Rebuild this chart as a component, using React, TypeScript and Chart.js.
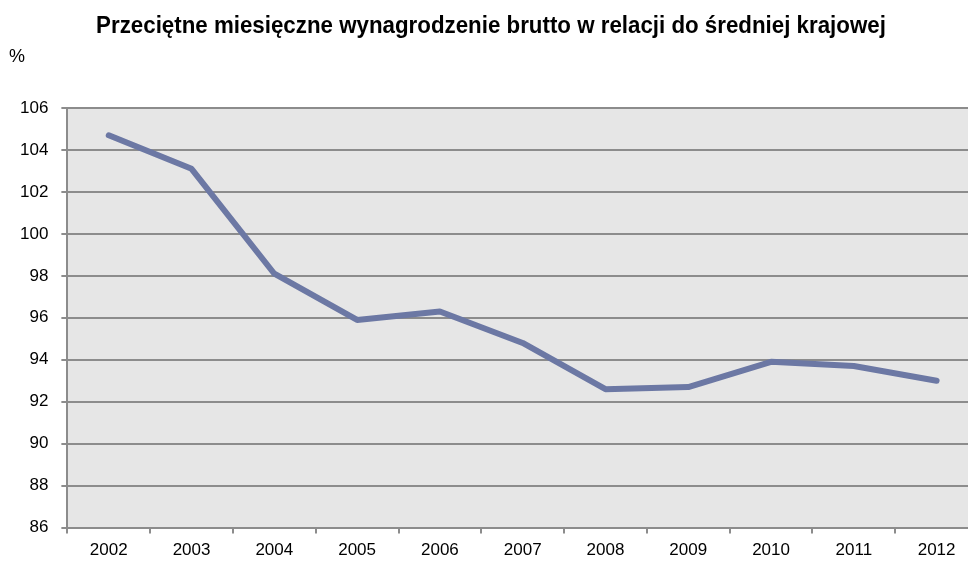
import React, { useEffect, useRef } from "react";
import { Chart, registerables } from "chart.js";

Chart.register(...registerables);

const TITLE = "Przeciętne miesięczne wynagrodzenie brutto w relacji do średniej krajowej";
const UNIT = "%";
const YEARS = ["2002", "2003", "2004", "2005", "2006", "2007", "2008", "2009", "2010", "2011", "2012"];
const VALUES = [104.7, 103.1, 98.1, 95.9, 96.3, 94.8, 92.6, 92.7, 93.9, 93.7, 93.0];
const Y_MIN = 86;
const Y_MAX = 106;
const Y_STEP = 2;

const FONT = "'Liberation Sans', Arial, sans-serif";

const decorPlugin = {
  id: "decor",
  beforeDraw(chart: any) {
    const { ctx, chartArea } = chart;
    ctx.save();
    ctx.fillStyle = "#E6E6E6";
    ctx.fillRect(chartArea.left, chartArea.top, chartArea.right - chartArea.left, chartArea.bottom - chartArea.top);
    ctx.restore();
  },
  afterDraw(chart: any) {
    const { ctx } = chart;
    ctx.save();
    ctx.fillStyle = "#000";
    ctx.textBaseline = "middle";
    ctx.textAlign = "center";
    ctx.font = `bold 23px ${FONT}`;
    ctx.translate(491, 27);
    ctx.scale(0.97, 1);
    ctx.fillText(TITLE, 0, 0);
    ctx.restore();
    ctx.save();
    ctx.fillStyle = "#000";
    ctx.textBaseline = "middle";
    ctx.textAlign = "left";
    ctx.font = `18px ${FONT}`;
    ctx.fillText(UNIT, 9, 57);
    ctx.restore();
  },
};

export default function App() {
  const ref = useRef<HTMLCanvasElement | null>(null);
  useEffect(() => {
    if (!ref.current) return;
    const chart = new Chart(ref.current, {
      type: "line",
      data: {
        labels: YEARS,
        datasets: [
          {
            data: VALUES,
            borderColor: "#6C78A4",
            borderWidth: 6,
            pointRadius: 0,
            tension: 0,
            borderCapStyle: "round",
            borderJoinStyle: "round",
            fill: false,
          },
        ],
      },
      options: {
        animation: false,
        responsive: false,
        layout: { autoPadding: false, padding: { left: 7, right: 4, top: 108, bottom: 0 } },
        plugins: { legend: { display: false }, tooltip: { enabled: false }, title: { display: false } },
        scales: {
          x: {
            offset: true,
            grid: {
              offset: true,
              drawOnChartArea: false,
              drawTicks: true,
              tickLength: 6,
              color: "#8C8C8C",
              lineWidth: 2,
            },
            border: { display: true, color: "#8C8C8C", width: 2 },
            ticks: { color: "#000", font: { family: FONT, size: 17 }, padding: 7, maxRotation: 0 },
          },
          y: {
            min: Y_MIN,
            max: Y_MAX,
            grid: { color: "#8C8C8C", lineWidth: 2, tickLength: 6 },
            border: { display: true, color: "#8C8C8C", width: 2 },
            ticks: { stepSize: Y_STEP, color: "#000", font: { family: FONT, size: 17 }, padding: 13 },
          },
        },
      },
      plugins: [decorPlugin],
    });
    return () => chart.destroy();
  }, []);
  return (
    <div style={{ position: "fixed", left: 0, top: 0, width: 968, height: 565, overflow: "hidden", background: "#fff" }}>
      <canvas ref={ref} width={982} height={568} style={{ display: "block", width: 982, height: 568 }} />
    </div>
  );
}
